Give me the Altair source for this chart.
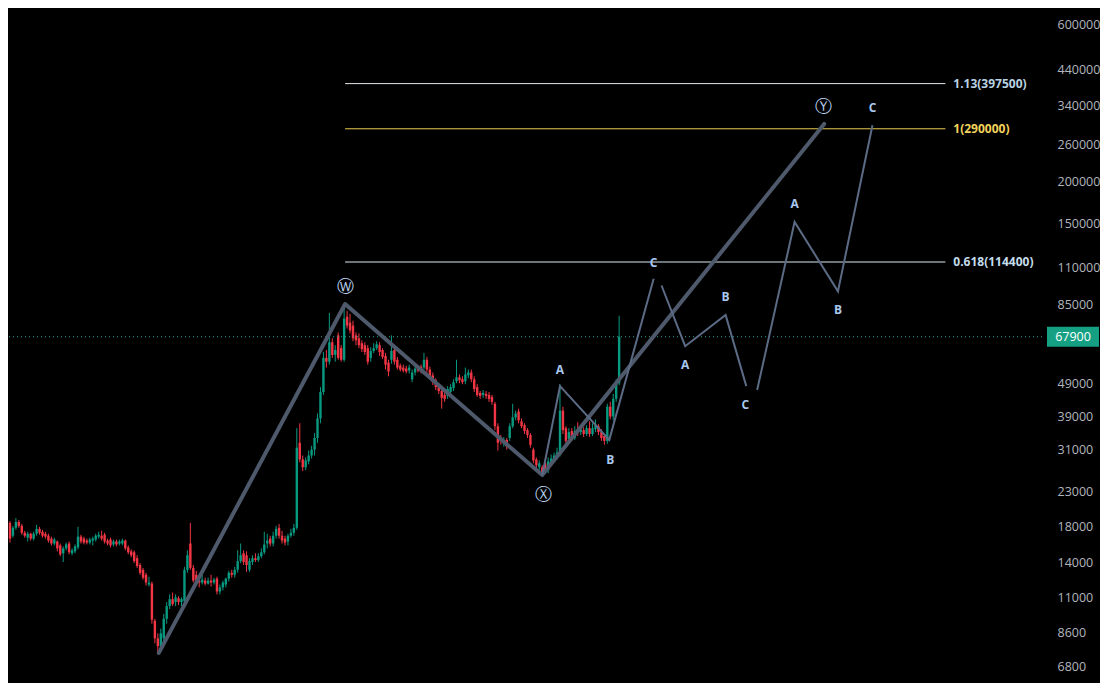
import altair as alt
import pandas as pd

# ---------------- candle data (bar index, OHLC) ----------------
opens = [18510,16930,17890,18630,18130,17280,16700,17170,16590,17170,17760,17400,17170,16930,16590,16030,16260,15820,14980,15500,
         16030,14980,15180,15600,16820,16590,16370,16140,16370,16480,16820,16930,17050,16370,16480,15930,16260,16030,16030,16370,
         15600,15180,15080,14470,13800,13340,12890,12040,12120,9350,8270,7830,8270,9480,10360,10870,10650,10940,10650,10720,
         13340,16030,13520,12890,12380,12210,12380,12120,12380,12210,12550,11470,11800,12040,12550,13070,12890,13340,14180,14980,
         14770,13340,14090,14470,14280,14670,15080,16030,16590,16030,16930,17890,16930,16590,16260,16930,17280,17890,32380,28830,
         27300,28440,29630,30870,33500,38400,46170,58590,57040,65340,59800,68550,62700,57820,78060,74920,73400,68550,67160,64900,
         64000,62700,58590,61480,62700,64000,61900,59390,56650,57820,61900,57820,55500,54750,54380,53640,50450,52920,54380,55120,
         54750,57820,54010,51850,50110,48430,46480,45230,44930,46170,47450,49770,51150,50450,49770,51850,52920,50450,47770,45850,
         45230,45540,45230,44620,42530,36360,33500,32160,33050,33500,36360,38660,40280,37620,36610,35380,34200,30870,28830,27300,
         27300,28060,26750,28060,28830,29430,29830,40550,35870,33270,35140,33500,34900,34900,35380,34430,35870,34430,35620,36360,
         34900,33960,32820,41670,38920,44010,49090]
closes = [16590,17890,18630,18130,17280,16930,17170,16590,17170,17760,17280,16930,16820,16370,16030,16480,15500,14870,15500,15930,
          15080,15290,15710,16820,16260,16140,16140,16480,16590,16930,17050,16590,16260,16030,15820,16260,15930,16260,16370,15500,
          15080,14770,14180,13710,13070,12630,12210,12210,9420,8270,7830,8560,9480,10360,10870,10500,11010,10650,10870,13340,
          14770,13520,12380,12290,12210,12460,12120,12380,12210,12460,11470,11800,12210,12550,13070,12890,13340,14180,14770,14090,
          13800,14180,14470,14280,14670,15080,15930,16370,16030,16930,17760,16930,16370,16140,16930,17280,17890,31290,28830,27300,
          28640,29630,30870,33500,38400,46170,58590,57040,65340,59800,61900,58590,57820,77010,73400,70930,67160,66240,64000,62270,
          61060,57040,61480,62700,64460,61060,58990,55880,53280,61480,57040,54750,54010,53640,53280,54750,52920,54380,53640,53640,
          57820,54010,51500,49430,47770,46480,44320,44010,47120,47770,49430,51150,50110,49430,52200,52920,50450,47120,45230,44930,
          45850,44930,44010,43120,36360,32380,32820,33050,31510,36360,38660,39730,37880,36360,35140,34200,31940,28640,27680,28060,
          26200,26560,28440,29030,29630,30240,40550,35380,32820,34900,33500,35140,34660,35620,34430,35870,34430,35870,36610,34900,
          33500,32820,41670,38920,44010,49090,67900]
highs = [18760,18130,19150,18890,18380,17520,17400,17280,17400,18260,18010,17640,17400,17170,16820,16700,16370,16030,15710,16140,
         16260,15500,15930,18010,17050,16820,16590,16700,16820,17170,17400,17520,17280,16590,16700,16480,16480,16480,16590,16480,
         15820,15390,15290,14770,13990,13520,13070,12720,12290,9480,8560,8850,9810,10650,11240,11390,11240,11090,11010,13620,
         15290,18510,13800,13250,12630,12890,12630,12630,12890,12630,12720,12040,12380,12630,13250,13340,13620,15290,16030,15290,
         15180,14470,14770,14980,14980,15500,17400,17170,16930,17400,18130,18380,17520,16930,17170,17760,18380,35870,37110,29630,
         29230,30660,31720,34660,39730,47770,61060,61900,80200,67160,64000,69970,64000,83530,81300,79650,75950,69970,69490,66240,
         65340,64000,63130,64900,65790,65340,62700,60640,57820,68550,63130,58990,56260,55880,55500,55880,54010,55500,55500,55880,
         60640,58990,55120,52920,50800,49090,47450,46170,48100,48760,50450,57820,52200,51500,54750,54010,54010,51500,48760,46480,
         46800,46480,46170,45230,43120,37110,34200,33730,33500,37110,42530,40550,41110,38400,37110,35870,34660,31290,29230,28640,
         27680,28830,29230,29830,30240,31290,48760,41670,36360,35870,35870,36360,37370,36360,36110,36610,37620,37110,38140,36860,
         35620,34430,42530,43120,45540,50450,78600]
lows = [16140,16700,17640,17890,17050,16700,16260,16370,16370,16930,17050,16700,16590,16140,15820,15820,15180,14670,14090,15290,
        14870,14770,14980,15390,16030,15930,15930,15930,15820,16260,16590,16370,16030,15820,15600,15710,15710,15820,15820,15290,
        14870,14570,13990,13520,12890,12460,11960,11880,9160,7990,7470,7570,7990,9160,10150,10360,10360,10430,10360,10580,
        13070,13340,12210,12040,11800,12040,11960,12040,11880,12040,11240,11240,11550,11800,12290,12630,12630,13070,13990,13800,
        13160,13160,13800,14090,14090,14470,14870,15500,15710,15710,16590,16590,16030,15820,15820,16700,16930,17640,28250,26560,
        26750,27870,29030,29630,32380,37110,45230,54750,55880,58590,57040,57820,57040,57040,71910,69490,65790,64000,62700,61060,
        59800,55880,57040,60640,61900,59390,58190,54010,51500,56260,55880,54010,53280,52920,52560,52560,49430,51850,52920,52560,
        54010,52920,50450,48430,46800,45540,41110,43120,44010,45230,46480,49090,49090,48760,48760,50800,49430,46170,44620,44010,
        44320,44010,43120,42240,35380,30660,31940,31510,30870,32820,35870,37880,37110,35870,34430,33500,31290,28060,26930,26750,
        25850,26020,26200,27680,28250,28830,29430,34430,31940,32600,32820,33050,33960,34200,33730,33960,33730,33960,34900,34200,
        32820,31940,32160,38140,37880,43120,48430]
bar_index = list(range(len(opens)))

# ---------------- wave structure ----------------
main_wave_i = [50.33, 113.33, 180.0, 275.33]
main_wave_p = [7470, 85300, 25850, 300000]

leg_names = ["l1", "l1", "l1", "l1", "l2", "l2", "l2", "l2", "l3", "l3", "l3", "l3"]
leg_i = [180.0, 186.0, 202.67, 217.67, 220.33, 228.33, 242.0, 249.0, 252.67, 265.33, 280.0, 291.67]
leg_p = [25850, 48100, 33050, 101800, 97100, 63560, 79110, 48100, 46800, 151300, 93200, 297200]

abc_text = ["A", "B", "C", "A", "B", "C", "A", "B", "C"]
abc_i = [186.0, 203.0, 217.67, 228.33, 242.0, 248.67, 265.33, 280.0, 291.67]
abc_p = [54010, 28640, 113600, 55880, 89500, 42240, 171000, 81840, 336000]

circ_text = ["Ⓦ", "Ⓧ", "Ⓨ"]
circ_i = [113.33, 180.33, 275.0]
circ_p = [95800, 22550, 338300]

# ---------------- fibonacci levels ----------------
fib_ratio = ["1.13", "1", "0.618"]
fib_price = [397500, 290000, 114400]
fib_line_color = ["#e2e8ec", "#e8cb4f", "#d8eaf2"]
fib_text_color = ["#b9d2e2", "#f2d35b", "#c3dcea"]
fib_start, fib_end, fib_label_i = 113.33, 316.33, 319.0

last_price = [67900]

tick_values = [6800, 8600, 11000, 14000, 18000, 23000, 31000, 39000, 49000,
               85000, 110000, 150000, 200000, 260000, 340000, 440000, 600000]

W, H = 1033, 675

# ---------------- build ----------------
candles = pd.DataFrame({"i": bar_index, "open": opens, "high": highs, "low": lows, "close": closes})
candles["dir"] = ["up" if c >= o else "down" for o, c in zip(opens, closes)]

xs = alt.Scale(domain=[-0.33, 349], nice=False, zero=False)
ys = alt.Scale(type="log", domain=[6055, 673800], nice=False, zero=False)
X = alt.X("i:Q", scale=xs, axis=None)
yaxis = alt.Axis(orient="right", values=tick_values, format="d", grid=False, domain=False,
                 ticks=False, labelColor="#b2b5be", labelFontSize=12.5, labelFont="Open Sans",
                 labelPadding=15, labelAlign="left", title=None, labelOverlap=False)


def Y(field):
    return alt.Y(field, scale=ys, axis=yaxis, title=None)


col = alt.Color("dir:N", scale=alt.Scale(domain=["up", "down"], range=["#089981", "#f23645"]), legend=None)

wicks = alt.Chart(candles).mark_rule(strokeWidth=1).encode(x=X, y=Y("low:Q"), y2="high:Q", color=col)
bodies = alt.Chart(candles).mark_rule(strokeWidth=2.4).encode(x=X, y=Y("open:Q"), y2="close:Q", color=col)

lp = pd.DataFrame({"price": last_price, "label": [str(v) for v in last_price]})
price_line = alt.Chart(lp).mark_rule(strokeDash=[1, 3], color="#26a69a", strokeWidth=1).encode(y=Y("price:Q"))
price_box = alt.Chart(lp).mark_tick(orient="horizontal", thickness=20, size=52, color="#15a083", opacity=1).encode(
    y=Y("price:Q"), x=alt.value(W + 31))
price_txt = alt.Chart(lp).mark_text(color="#ffffff", fontSize=12.5, font="Open Sans", align="center",
                                    baseline="middle").encode(y=Y("price:Q"), x=alt.value(W + 31), text="label:N")

fib_layers = []
for r, p, lc, tc in zip(fib_ratio, fib_price, fib_line_color, fib_text_color):
    d = pd.DataFrame({"price": [p], "start": [fib_start], "end": [fib_end], "lx": [fib_label_i],
                      "label": [f"{r}({p})"]})
    fib_layers.append(alt.Chart(d).mark_rule(strokeWidth=1, color=lc).encode(
        x=alt.X("start:Q", scale=xs, axis=None), x2="end:Q", y=Y("price:Q")))
    fib_layers.append(alt.Chart(d).mark_text(align="left", baseline="middle", fontSize=12, font="Open Sans",
                                             fontWeight="bold", color=tc).encode(
        x=alt.X("lx:Q", scale=xs, axis=None), y=Y("price:Q"), text="label:N"))

mw = pd.DataFrame({"i": main_wave_i, "price": main_wave_p})
main_line = alt.Chart(mw).mark_line(color="#4e596c", strokeWidth=4, strokeCap="round", strokeJoin="round").encode(
    x=X, y=Y("price:Q"))

legs = pd.DataFrame({"leg": leg_names, "i": leg_i, "price": leg_p})
leg_lines = alt.Chart(legs).mark_line(color="#5c6b85", strokeWidth=2).encode(
    x=X, y=Y("price:Q"), detail="leg:N")

abc = pd.DataFrame({"t": abc_text, "i": abc_i, "price": abc_p})
abc_lbl = alt.Chart(abc).mark_text(color="#a9c8ee", fontSize=12, font="Open Sans", fontWeight="bold",
                                   baseline="middle").encode(x=X, y=Y("price:Q"), text="t:N")

circ = pd.DataFrame({"t": circ_text, "i": circ_i, "price": circ_p})
circ_lbl = alt.Chart(circ).mark_text(color="#b9d0ee", fontSize=17, font="DejaVu Sans", baseline="middle").encode(
    x=X, y=Y("price:Q"), text="t:N")

chart = alt.layer(
    wicks, bodies, price_line, *fib_layers, main_line, leg_lines, abc_lbl, circ_lbl, price_box, price_txt
).properties(width=W, height=H, padding=0, background="#000000").configure_view(stroke=None)

chart.save("out.html", embed_options={"renderer": "svg", "actions": False})
